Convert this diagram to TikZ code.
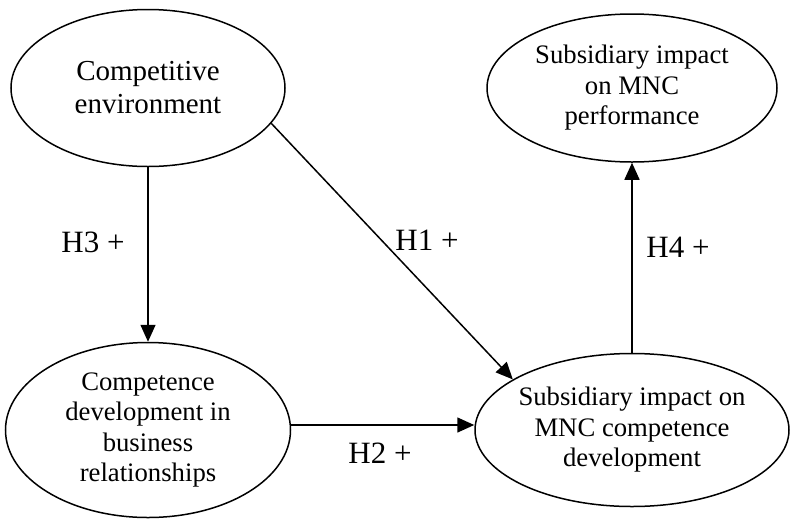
\documentclass[tikz,border=0pt]{standalone}
\usepackage{fontspec}
\setmainfont{Liberation Serif}
\usetikzlibrary{shapes.geometric,arrows.meta}

\begin{document}
\begin{tikzpicture}[x=1pt,y=-1pt,
    konstrukt/.style={draw, ellipse, line width=1.5pt, inner sep=-10pt, align=center,
        font=\fontsize{26.7}{30.5}\selectfont},
    pfeil/.style={line width=1.5pt, -{Triangle[length=17pt,width=15pt]}},
    hyp/.style={font=\fontsize{31}{36}\selectfont}]
    \useasboundingbox (0,0) rectangle (792,520);

    % Konstrukte
    \node[konstrukt, minimum width=274pt, minimum height=157pt,
        font=\fontsize{29}{33}\selectfont] (umfeld) at (148,88) {Competitive\\environment};
    \node[konstrukt, minimum width=290pt, minimum height=148pt] (leistung) at (632,88)
        {Subsidiary impact\\on MNC\\performance};
    \node[konstrukt, minimum width=285pt, minimum height=175pt] (beziehung) at (148,430)
        {Competence\\development in\\business\\relationships};
    \node[konstrukt, minimum width=314pt, minimum height=153pt] (kompetenz) at (632,430)
        {Subsidiary impact on\\MNC competence\\development};

    % Hypothesen (Pfeile)
    \draw[pfeil] (umfeld.south) -- (beziehung.north);
    \draw[pfeil] (umfeld.-16) -- (kompetenz.157);
    \draw[pfeil] (beziehung.2) -- (kompetenz.west |- beziehung.2);
    \draw[pfeil] (kompetenz.north) -- (leistung.south);

    % Beschriftung
    \node[hyp] (h3) at (93,242) {H3 +};
    \node[hyp] (h1) at (427,240) {H1 +};
    \node[hyp] (h2) at (380,453) {H2 +};
    \node[hyp] (h4) at (678,247) {H4 +};
\end{tikzpicture}
\end{document}
